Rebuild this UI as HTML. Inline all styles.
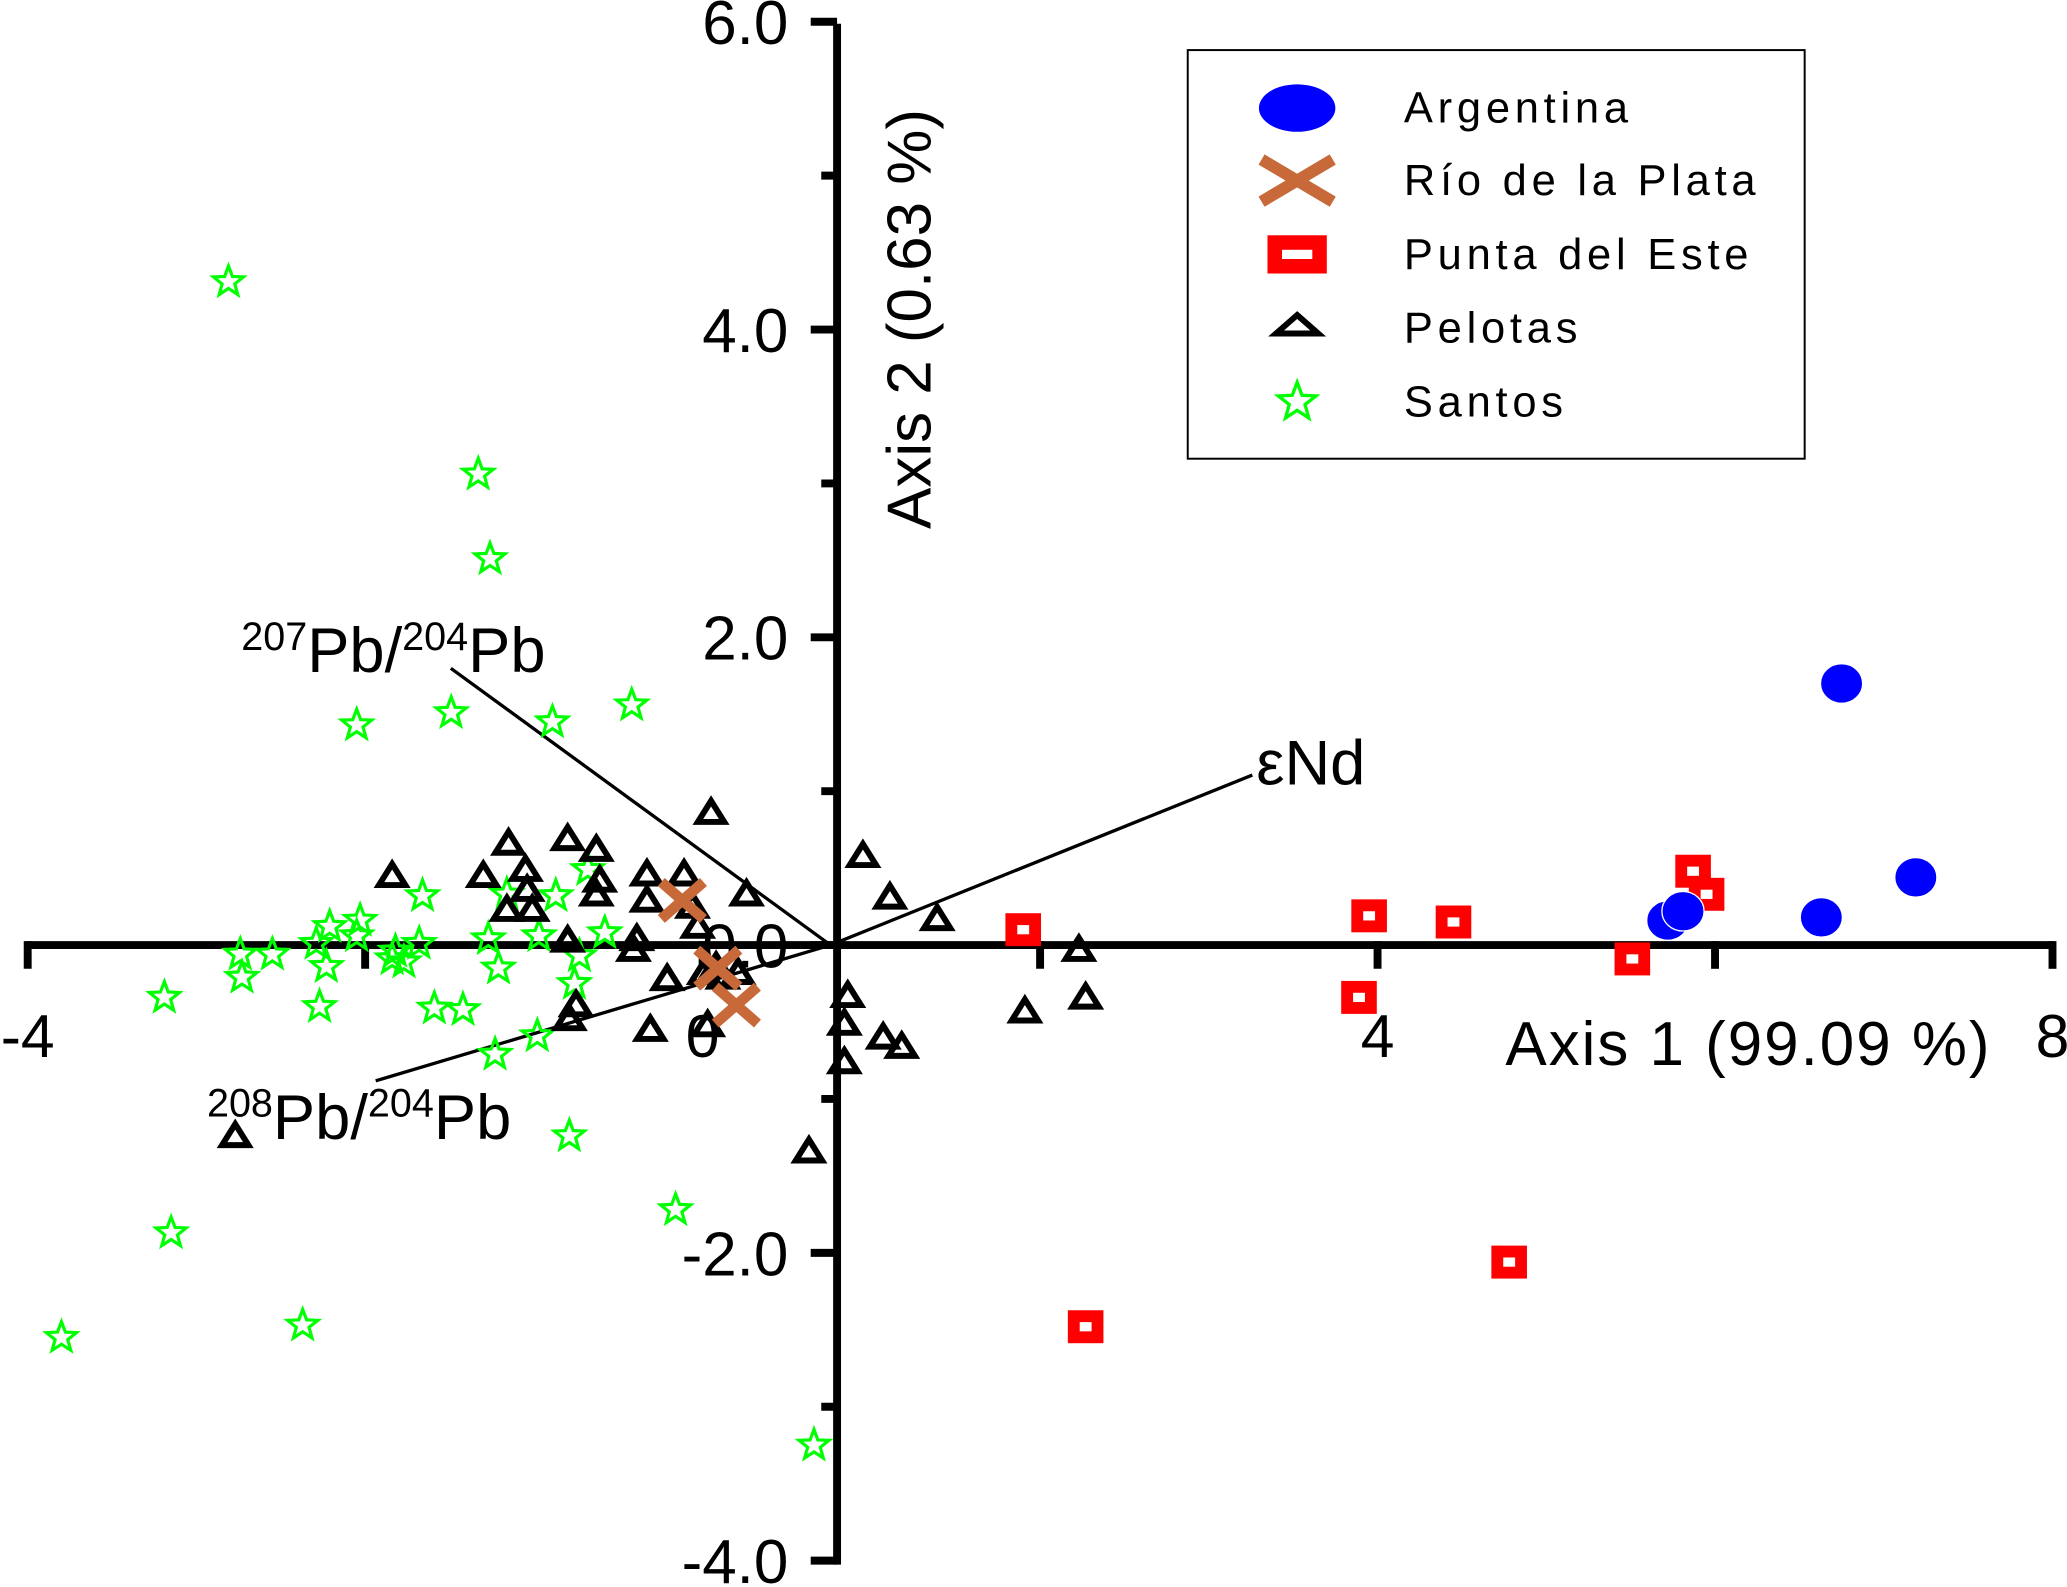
<!DOCTYPE html>
<html><head><meta charset="utf-8"><style>
html,body{margin:0;padding:0;background:#fff;}
svg{display:block;}
text{font-family:"Liberation Sans",Arial,sans-serif;}
</style></head><body>
<svg id="chart" width="2067" height="1587" viewBox="0 0 1568 1204" preserveAspectRatio="none" xmlns="http://www.w3.org/2000/svg">
<g id="axes"></g>
<g id="loadings"></g>
<g id="marks"></g>
<g id="legend"></g>
</svg>
<script>
const xTicks = [-4, 0, 4, 8];
const xMajor = [-4, -2, 0, 2, 4, 6, 8];
const yTicks = [6, 4, 2, 0, -2, -4];
const yTickLabels = ["6.0", "4.0", "2.0", "0.0", "-2.0", "-4.0"];
const yMinor = [5, 3, 1, -1, -3];
const argX = [6.75, 7.19, 6.63, 5.72, 5.81];
const argY = [1.70, 0.44, 0.18, 0.16, 0.22];
const rioX = [-0.12, 0.09, 0.20];
const rioY = [0.29, -0.15, -0.39];
const puntaX = [1.90, 3.95, 4.45, 3.89, 5.51, 5.87, 5.95, 2.27, 4.78];
const puntaY = [0.10, 0.19, 0.15, -0.34, -0.09, 0.48, 0.33, -2.48, -2.06];
const pelPx = [[540,617],[654,649],[675,681],[711,697],[566,679],[819,720],[824,757],[778,767],[643,755],[641,776],[670,787],[684,794],[640,806],[613,873],[386,640],[430,637],[453,645],[455,668],[452,678],[491,663],[519,663],[491,683],[525,688],[529,703],[483,712],[431,713],[297,665],[366,665],[398,660],[400,675],[384,690],[404,690],[560,738],[548,742],[534,738],[506,743],[493,781],[432,773],[437,763],[178,862],[543,733],[537,778],[480,720]];
const pelX = pelPx.map(p => +((p[0]-533)/128).toFixed(2));
const pelY = pelPx.map(p => +((717-p[1])/116.75).toFixed(2));
const sanPx = [[173,214],[363,360],[372,424],[479,535],[342,541],[419,548],[271,550],[320,680],[446,660],[422,680],[385,678],[250,703],[273,698],[240,716],[207,724],[182,724],[183,742],[125,757],[242,764],[248,733],[298,727],[318,716],[306,730],[329,765],[351,766],[378,734],[371,712],[409,710],[408,786],[376,800],[440,725],[436,746],[459,708],[432,862],[512,918],[130,935],[230,1005],[47,1015],[617,1097],[270,710],[300,722]];
const sanX = sanPx.map(p => +((p[0]-533)/128).toFixed(2));
const sanY = sanPx.map(p => +((717-p[1])/116.75).toFixed(2));

const NS = "http://www.w3.org/2000/svg";
function X(v){ return 533 + v*128; }
function Y(v){ return 717 - v*116.75; }
function mk(tag, attrs, parent, txt){
  const e = document.createElementNS(NS, tag);
  for (const k in attrs) e.setAttribute(k, attrs[k]);
  if (txt !== undefined) e.textContent = txt;
  parent.appendChild(e); return e;
}
const axes = document.getElementById('axes');
const AX = 635;
let l = mk('line', {x1:20, y1:717, x2:1558, y2:717, stroke:'#000', 'stroke-width':6}, axes);


l = mk('line', {x1:AX, y1:18, x2:AX, y2:1187, stroke:'#000', 'stroke-width':6}, axes);


xMajor.forEach(v => {
  const t = mk('line', {x1:X(v), y1:714, x2:X(v), y2:735, stroke:'#000', 'stroke-width':6}, axes);
  
  
});
xTicks.forEach(v => {
  const t = mk('text', {x:X(v), y:802, 'font-size':46, 'text-anchor':'middle', fill:'#000'}, axes, String(v));
  
  
});
yTicks.forEach((v,i) => {
  const t = mk('line', {x1:AX-20, y1:Y(v), x2:AX, y2:Y(v), stroke:'#000', 'stroke-width':6}, axes);
  
  
  const tl = mk('text', {x:598, y:Y(v)+17, 'font-size':47, 'text-anchor':'end', fill:'#000'}, axes, yTickLabels[i]);
  
  
});
yMinor.forEach(v => {
  const t = mk('line', {x1:AX-12, y1:Y(v), x2:AX, y2:Y(v), stroke:'#000', 'stroke-width':6}, axes);
  
  
});
let at = mk('text', {x:1142, y:808, 'font-size':47, 'letter-spacing':1.5, fill:'#000'}, axes, 'Axis 1 (99.09 %)');


at = mk('text', {x:0, y:0, 'font-size':47, 'text-anchor':'middle', fill:'#000', transform:'translate(706,242) rotate(-90)'}, axes, 'Axis 2 (0.63 %)');



// loadings
const ld = document.getElementById('loadings');
[[342,507],[950,588],[285,820]].forEach((p,i) => {
  const e = mk('line', {x1:630, y1:717, x2:p[0], y2:p[1], stroke:'#000', 'stroke-width':2.5}, ld);
  
  
});
function supLabel(x, y, a, b, name){
  const t = mk('text', {x:x, y:y, 'font-size':48, fill:'#000'}, ld);
  
  
  mk('tspan', {'font-size':30, dy:-17}, t, a);
  mk('tspan', {dy:17}, t, 'Pb/');
  mk('tspan', {'font-size':30, dy:-17}, t, b);
  mk('tspan', {dy:17}, t, 'Pb');
}
supLabel(183, 510, '207', '204', 'label-207pb-204pb');
supLabel(157, 864, '208', '204', 'label-208pb-204pb');
let nd = mk('text', {x:953, y:595, 'font-size':48, fill:'#000'}, ld, 'εNd');



// markers
const marks = document.getElementById('marks');
function star(cx, cy, r){
  let pts = [];
  for (let i=0;i<10;i++){ const rr = i%2? r*0.42 : r; const a = -Math.PI/2 + i*Math.PI/5; pts.push((cx+rr*Math.cos(a)).toFixed(1)+','+(cy+rr*Math.sin(a)).toFixed(1)); }
  return pts.join(' ');
}
function drawStar(g, cx, cy, r){ return mk('polygon', {points:star(cx,cy,r), fill:'none', stroke:'#00ff00', 'stroke-width':2.4}, g); }
function drawTri(g, cx, cy){ return mk('polygon', {points:`${cx},${cy-9} ${cx+10},${cy+7} ${cx-10},${cy+7}`, fill:'none', stroke:'#000', 'stroke-width':4.5}, g); }
function drawSq(g, cx, cy){ return mk('rect', {x:cx-9, y:cy-8, width:18, height:16, fill:'#fff', stroke:'#ff0000', 'stroke-width':9}, g); }
function drawX(g, cx, cy){ return mk('path', {d:`M${cx-16},${cy-14}L${cx+16},${cy+14}M${cx-16},${cy+14}L${cx+16},${cy-14}`, stroke:'#c8693a', 'stroke-width':8}, g); }
function drawCirc(g, cx, cy){ return mk('ellipse', {cx:cx, cy:cy, rx:16, ry:15, fill:'#0000ff', stroke:'#fff', 'stroke-width':1}, g); }

sanX.forEach((v,i) => {
  const e = drawStar(marks, X(v), Y(sanY[i]), 12);
  
  
});
pelX.forEach((v,i) => {
  const e = drawTri(marks, X(v), Y(pelY[i]));
  
  
});
rioX.forEach((v,i) => {
  const e = drawX(marks, X(v), Y(rioY[i]));
  
  
});
puntaX.forEach((v,i) => {
  const e = drawSq(marks, X(v), Y(puntaY[i]));
  
  
});
argX.forEach((v,i) => {
  const e = drawCirc(marks, X(v), Y(argY[i]));
  
  
});

// legend
const lg = document.getElementById('legend');
let box = mk('rect', {x:901, y:38, width:468, height:310, fill:'#fff', stroke:'#000', 'stroke-width':1.5}, lg);


const legNames = ['Argentina','Río de la Plata','Punta del Este','Pelotas','Santos'];
const legY = [82,137,193,249,305];
legNames.forEach((n,i) => {
  const g = mk('g', {}, lg);
  
  
  const cx = 984, cy = legY[i];
  if (i===0) mk('ellipse', {cx:cx, cy:cy, rx:29, ry:18, fill:'#0000ff'}, g);
  if (i===1) mk('path', {d:`M${cx-27},${cy-16}L${cx+27},${cy+16}M${cx-27},${cy+16}L${cx+27},${cy-16}`, stroke:'#c8693a', 'stroke-width':9}, g);
  if (i===2) mk('rect', {x:cx-17, y:cy-9, width:34, height:18, fill:'#fff', stroke:'#ff0000', 'stroke-width':11}, g);
  if (i===3) mk('polygon', {points:`${cx},${cy-10} ${cx+16},${cy+4} ${cx-16},${cy+4}`, fill:'none', stroke:'#000', 'stroke-width':4.5}, g);
  if (i===4) mk('polygon', {points:star(cx, cy, 15), fill:'none', stroke:'#00ff00', 'stroke-width':2.5}, g);
  mk('text', {x:1065, y:cy+11, 'font-size':33, 'letter-spacing':3.6, fill:'#000'}, g, n);
});
</script>
</body></html>
